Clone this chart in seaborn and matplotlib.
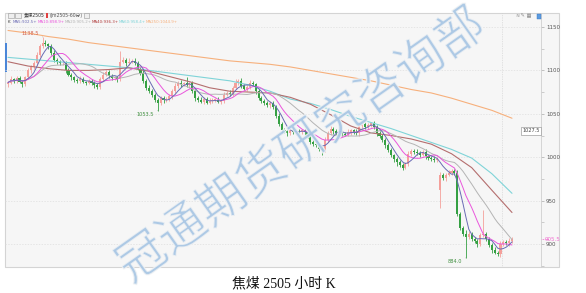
import matplotlib
matplotlib.use("Agg")
import numpy as np
import pandas as pd
import matplotlib.pyplot as plt
import matplotlib.patheffects as pe
from matplotlib.patches import Rectangle
from matplotlib.ticker import MultipleLocator, FixedLocator
import seaborn as sns

# ---------------- data ----------------
closes = [
    1086, 1090, 1088, 1091, 1087, 1084, 1092, 1100, 1104, 1108,
    1118, 1128, 1132, 1130, 1128, 1120, 1112, 1110, 1108, 1109,
    1100, 1095, 1092, 1089, 1088, 1090, 1087, 1086, 1088, 1085,
    1083, 1081, 1090, 1095, 1098, 1094, 1091, 1092, 1090, 1110,
    1112, 1108, 1110, 1111, 1109, 1102, 1097, 1088, 1080, 1076,
    1072, 1066, 1062, 1068, 1066, 1067, 1070, 1076, 1082, 1086,
    1084, 1085, 1083, 1085, 1076, 1068, 1066, 1064, 1067, 1063,
    1065, 1066, 1066, 1064, 1065, 1072, 1074, 1073, 1080, 1086,
    1088, 1082, 1079, 1081, 1086, 1084, 1076, 1068, 1065, 1062,
    1060, 1063, 1058, 1048, 1038, 1031, 1030, 1028, 1031, 1029,
    1030, 1029, 1031, 1029, 1024, 1018, 1015, 1014, 1010, 1008,
    1020, 1028, 1033, 1030, 1028, 1029, 1027, 1026, 1029, 1031,
    1029, 1028, 1036, 1038, 1035, 1037, 1039, 1035, 1028, 1024,
    1020, 1014, 1008, 1002, 998, 994, 991, 988, 992, 1004,
    1007, 1006, 1005, 1003, 1006, 1001, 999, 998, 997, 998,
    980, 976, 980, 982, 984, 982, 935, 918, 912, 908,
    912, 906, 903, 900, 910, 911, 906, 899, 893, 890,
    888.5, 900, 902.5, 901, 903.5, 905.5,
]
upper_wick = [
    2, 3, 1, 2, 3, 2, 2, 3, 2, 3, 3, 2, 6.5, 3, 2, 2,
    3, 2, 2, 1, 2, 3, 2, 1, 2, 3, 2, 1, 2, 2, 3, 2,
    2, 3, 2, 3, 2, 1, 2, 12, 3, 2, 4, 2, 3, 2, 2, 3,
    2, 3, 3, 2, 2, 3, 2, 2, 3, 2, 3, 2, 3, 2, 7, 2,
    3, 2, 2, 3, 2, 2, 3, 2, 2, 3, 2, 3, 2, 3, 2, 4,
    2, 3, 2, 2, 3, 2, 2, 3, 2, 2, 3, 2, 2, 2, 3, 2,
    3, 2, 2, 3, 2, 3, 2, 2, 3, 2, 2, 3, 2, 3, 3, 2,
    3, 2, 2, 3, 2, 2, 3, 2, 2, 3, 5, 2, 3, 2, 2, 3,
    2, 2, 3, 2, 2, 3, 2, 2, 3, 2, 3, 3, 2, 2, 3, 2,
    2, 3, 2, 2, 3, 2, 3, 2, 2, 3, 2, 2, 3, 2, 3, 4,
    3, 2, 2, 3, 3, 28, 3, 2, 2, 3, 2, 3, 2, 2, 3, 2.5,
]
lower_wick = [
    3, 2, 2, 3, 2, 3, 2, 2, 3, 2, 2, 3, 2, 2, 3, 2,
    2, 3, 2, 2, 3, 2, 3, 2, 2, 3, 2, 3, 2, 2, 3, 3,
    3, 2, 2, 3, 2, 2, 3, 2, 2, 3, 2, 2, 3, 2, 2, 3,
    3, 2, 3, 2, 8.5, 2, 3, 2, 2, 3, 2, 2, 3, 2, 2, 3,
    2, 3, 2, 2, 3, 2, 2, 3, 2, 2, 3, 2, 2, 3, 2, 2,
    3, 2, 2, 3, 2, 2, 3, 2, 3, 2, 2, 3, 2, 3, 2, 3,
    2, 3, 2, 2, 3, 2, 2, 3, 2, 3, 2, 2, 3, 5, 2, 2,
    2, 3, 2, 2, 3, 2, 2, 3, 2, 2, 3, 2, 2, 3, 2, 2,
    3, 2, 2, 3, 2, 2, 3, 4, 2, 3, 2, 2, 3, 2, 2, 3,
    2, 3, 2, 2, 3, 2, 21, 2, 3, 2, 2, 3, 3, 2, 3, 24,
    2, 3, 2, 3, 2, 2, 3, 2, 3, 2, 2, 3, 2, 2, 3, 2,
]
first_open = 1084
gap_opens = {150: 962}

# long moving averages, one value every 7 bars
ma_step = 7
ma40_pts = [1110, 1105, 1102, 1100, 1100, 1101, 1103, 1099, 1093, 1087,
            1080, 1076, 1075, 1074, 1069, 1061, 1049, 1036, 1028, 1025,
            1021, 1015, 1004, 988, 962, 936.3]
ma60_pts = [1115, 1113, 1111, 1109, 1107, 1105, 1103, 1100, 1097, 1094,
            1091, 1088, 1083, 1076, 1067, 1062, 1055, 1047, 1040, 1033,
            1025, 1017, 1009, 999, 981, 958.4]
ma250_pts = [1146, 1143, 1139, 1136, 1132, 1129, 1126, 1123, 1120, 1117,
             1114, 1111, 1109, 1107, 1104, 1100, 1096, 1092, 1088, 1083,
             1078, 1074, 1068, 1061, 1054, 1044.9]

y_ticks = [900, 950, 1000, 1050, 1100, 1150]
cursor_price = 1027.5
cursor_bar = 171.5
marks = [(12, "high"), (52, "low"), (159, "low")]

title = "焦煤 2505 小时 K"
watermark = "冠通期货研究咨询部"

# ---------------- style ----------------
sns.set_theme(style="white")
plt.rcParams["font.family"] = ["DejaVu Sans", "Noto Sans CJK SC"]
plt.rcParams["axes.unicode_minus"] = False

W, H = 586, 293
PANEL = "#f6f6f6"
fig = plt.figure(figsize=(W / 100, H / 100), dpi=100)
fig.patch.set_facecolor("white")


def fx(px):
    return px / W


def fy(py):
    return 1 - py / H


# chart panel background
fig.patches.append(Rectangle((fx(5), fy(267)), fx(559) - fx(5), fy(13) - fy(267),
                             transform=fig.transFigure, facecolor=PANEL,
                             edgecolor="#d4d4d4", lw=0.8, zorder=-5))
fig.patches.append(Rectangle((fx(4.5), fy(72)), fx(2), fy(43) - fy(72),
                             transform=fig.transFigure, facecolor="#4a86d8",
                             lw=0, zorder=-4))

ax = fig.add_axes([fx(5), fy(267), fx(541) - fx(5), fy(13) - fy(267)])
ax.set_facecolor("none")

UP, DOWN = "#f4a09b", "#35a043"

closes_a = np.asarray(closes, dtype=float)
idx = np.arange(len(closes_a))
opens = np.r_[first_open, closes_a[:-1]]
for k, v in gap_opens.items():
    opens[k] = v
highs = np.maximum(opens, closes_a) + np.asarray(upper_wick)
lows = np.minimum(opens, closes_a) - np.asarray(lower_wick)
up = closes_a >= opens
cols = np.where(up, UP, DOWN)

ax.vlines(idx, lows, highs, colors=cols, lw=0.6, zorder=2)
body = np.maximum(np.abs(closes_a - opens), 0.9)
ax.bar(idx, body, bottom=np.minimum(opens, closes_a), width=0.72,
       color=cols, lw=0, zorder=2.5)

# moving averages
df = pd.DataFrame({"bar": idx, "close": closes_a})
for w in (5, 10, 20):
    df[f"MA{w}"] = df["close"].rolling(w, min_periods=1).mean()

ma_bars = np.arange(0, len(closes_a), ma_step)
long_df = pd.DataFrame({"bar": ma_bars, "MA40": ma40_pts,
                        "MA60": ma60_pts, "MA250": ma250_pts})

ma_colors = {"MA5": "#6a6ab4", "MA10": "#ea56dc", "MA20": "#b4b4b4",
             "MA40": "#b46e6e", "MA60": "#7fd4d8", "MA250": "#f6b07c"}

for name in ("MA250", "MA60", "MA40"):
    sns.lineplot(data=long_df, x="bar", y=name, ax=ax, color=ma_colors[name],
                 lw=0.8, estimator=None, sort=False, legend=False, zorder=3)
for name in ("MA20", "MA10", "MA5"):
    sns.lineplot(data=df, x="bar", y=name, ax=ax, color=ma_colors[name],
                 lw=0.7, estimator=None, sort=False, legend=False, zorder=3)

# axes geometry: bar i sits at pixel 8 + 2.88 i
ax.set_xlim((5 - 8) / 2.88, (541 - 8) / 2.88)
ax.set_ylim(1150 - (267 - 27) / 0.868, 1150 + (27 - 13) / 0.868)
ax.set_xlabel("")
ax.set_ylabel("")
ax.set_xticks([])
ax.yaxis.tick_right()
ax.yaxis.set_major_locator(FixedLocator(y_ticks))
ax.yaxis.set_minor_locator(MultipleLocator(25))
ax.set_yticklabels([str(v) for v in y_ticks])
ax.tick_params(axis="y", which="major", length=2, width=0.5, color="#aaaaaa",
               labelsize=4, labelcolor="#555555", pad=1.5, right=True)
ax.tick_params(axis="y", which="minor", length=2, width=0.5, color="#bbbbbb", right=True)
for s in ("top", "left", "bottom"):
    ax.spines[s].set_visible(False)
ax.spines["right"].set_color("#cfcfcf")
ax.spines["right"].set_linewidth(0.6)
ax.grid(axis="y", which="major", color="#dedede", ls=(0, (2, 2)), lw=0.5)
ax.axvline(cursor_bar, color="#cccccc", ls=(0, (1, 1.5)), lw=0.5, zorder=1)

# last price marker
last = closes_a[-1]
ax.plot([1.0, 1.015], [last, last], transform=ax.get_yaxis_transform(),
        color="#f06fd0", ls=(0, (1, 1)), lw=0.6, clip_on=False)
ax.text(1.007, last, f"{last:.1f}", transform=ax.get_yaxis_transform(),
        fontsize=4, color="#f06fd0", va="center", ha="left", clip_on=False)

# crosshair price box
ax.text(0.998, cursor_price, f"{cursor_price:.1f}", transform=ax.get_yaxis_transform(),
        fontsize=3.6, color="#444444", va="bottom", ha="right",
        bbox=dict(boxstyle="square,pad=0.25", fc="white", ec="#888888", lw=0.4))

# extreme price annotations
for bar, kind in marks:
    if kind == "high":
        val = highs[bar]
        ax.annotate(f"{val:.1f}", xy=(bar, val), xytext=(-2.5, 2.2),
                    textcoords="offset points", fontsize=3.6, color="#d2604c",
                    ha="right", va="center",
                    arrowprops=dict(arrowstyle="-", lw=0.4, color="#777777"))
    else:
        val = lows[bar]
        ax.annotate(f"{val:.1f}", xy=(bar, val), xytext=(-2.5, -2.4),
                    textcoords="offset points", fontsize=3.6, color="#3f8f3f",
                    ha="right", va="center",
                    arrowprops=dict(arrowstyle="-", lw=0.4, color="#777777"))

# header rows
renderer = fig.canvas.get_renderer()


def run_text(x_px, y_px, pieces, size):
    x = x_px
    for txt, col in pieces:
        t = fig.text(fx(x), fy(y_px), txt, color=col, fontsize=size,
                     va="center", ha="left", zorder=6)
        x += t.get_window_extent(renderer).width
    return x


for bx in (8, 15):
    fig.patches.append(Rectangle((fx(bx), fy(18)), fx(5.5), fy(13.5) - fy(18),
                                 transform=fig.transFigure, facecolor="#eeeeee",
                                 edgecolor="#999999", lw=0.4, zorder=6))
xe = run_text(24, 15.8, [("焦煤2505", "#333333")], 3.3)
fig.patches.append(Rectangle((fx(xe + 1.5), fy(18)), fx(2), fy(13.5) - fy(18),
                             transform=fig.transFigure, facecolor="#e04040",
                             lw=0, zorder=6))
xe = run_text(xe + 5, 15.8, [("(jm2505-60分)", "#555555")], 3.3)
fig.patches.append(Rectangle((fx(xe + 1), fy(18)), fx(4.5), fy(13.5) - fy(18),
                             transform=fig.transFigure, facecolor="#eeeeee",
                             edgecolor="#999999", lw=0.4, zorder=6))

ma_last = {"MA5": df["MA5"].iloc[-1], "MA10": df["MA10"].iloc[-1],
           "MA20": df["MA20"].iloc[-1], "MA40": ma40_pts[-1],
           "MA60": ma60_pts[-1], "MA250": ma250_pts[-1]}
pieces = [("K  ", "#333333")]
for name in ("MA5", "MA10", "MA20", "MA40", "MA60", "MA250"):
    col = ma_colors[name] if name != "MA40" else "#b03a3a"
    pieces.append((f"{name}:{ma_last[name]:.1f}+", col))
run_text(7.5, 21.8, pieces, 2.9)

# toolbar glyphs at top right
run_text(515, 15.5, [("≈", "#888888"), (" ✎", "#888888"), (" ▦", "#888888")], 3.6)
fig.patches.append(Rectangle((fx(536.5), fy(19)), fx(4.5), fy(13.5) - fy(19),
                             transform=fig.transFigure, facecolor="#5b9be0",
                             edgecolor="#3a78c0", lw=0.3, zorder=6))

# watermark, thin strokes
fig.text(fx(302), fy(146.5), watermark, rotation=35.2, rotation_mode="anchor",
         fontsize=35, color="#a9c7e4", alpha=0.75, ha="center", va="center",
         family=["Noto Sans CJK SC"], fontweight="light", zorder=8,
         path_effects=[pe.Normal(), pe.Stroke(linewidth=1.0, foreground=PANEL)])

# caption
fig.text(fx(283.5), fy(284), title, fontsize=10, color="#111111",
         ha="center", va="center", family=["Liberation Serif", "Noto Sans CJK SC"],
         zorder=9)

fig.savefig("out.png", dpi=100, facecolor="white")
